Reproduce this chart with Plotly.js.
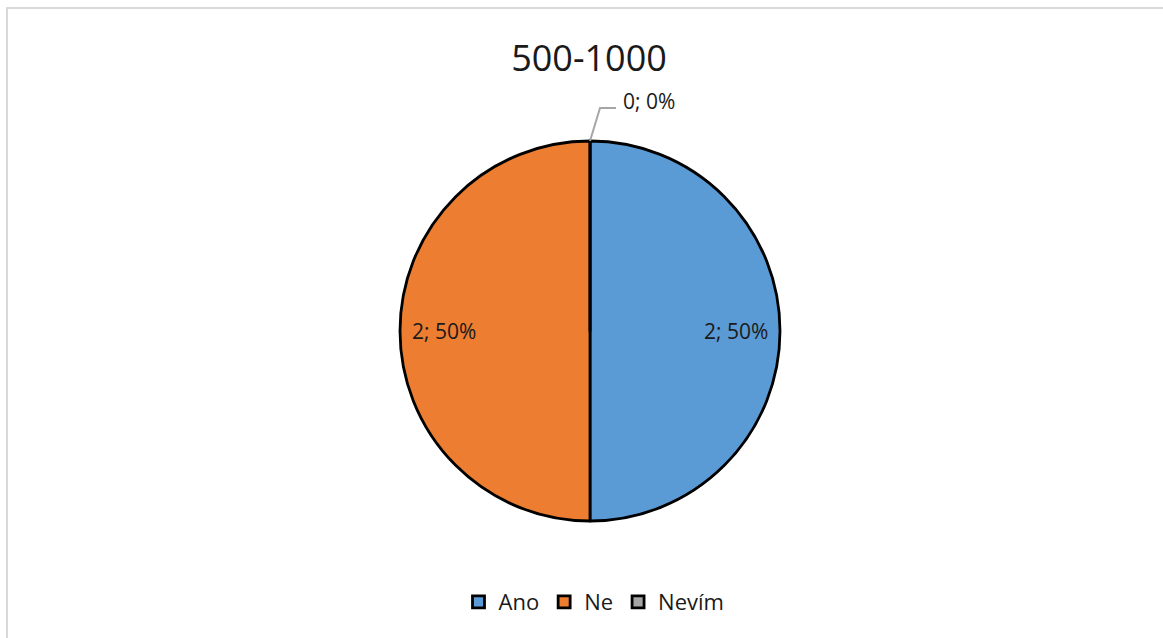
<!DOCTYPE html>
<html>
<head>
<meta charset="utf-8">
<script src="https://cdn.plot.ly/plotly-3.0.1.min.js"></script>
<style>
html,body{margin:0;padding:0;background:#fff;overflow:hidden;}
#chart{width:1163px;height:638px;}
</style>
</head>
<body>
<div id="chart"></div>
<script>
const categories = ["Ano", "Ne", "Nevím"];
const values = [2, 2, 0];
const colors = ["#5B9BD5", "#ED7D31", "#A5A5A5"];
const chartTitle = "500-1000";

const W = 1163, H = 638;
const cx = 590, cy = 331, R = 190;
const px = x => x / W;
const py = y => 1 - y / H;
const FONT = "'Open Sans', Lato, sans-serif";

const total = values.reduce((a, b) => a + b, 0);
const pctText = v => v + "; " + Math.round(100 * v / total) + "%";

const trace = {
  type: "pie",
  labels: categories,
  values: values,
  sort: false,
  direction: "clockwise",
  rotation: 0,
  marker: {colors: colors, line: {color: "#000000", width: 2.8}},
  textinfo: "none",
  hoverinfo: "label+value+percent",
  domain: {x: [px(cx - R), px(cx + R)], y: [py(cy + R), py(cy - R)]},
  showlegend: true
};

const annotations = [];
const shapes = [
  {type: "rect", xref: "paper", yref: "paper", x0: px(7), x1: 1.02, y0: -0.02, y1: py(8),
   line: {color: "#D9D9D9", width: 2}, fillcolor: "rgba(0,0,0,0)"}
];

// data labels placed at each slice's mid-angle (clockwise from 12 o'clock)
let cum = 0;
values.forEach((v, i) => {
  const mid = 2 * Math.PI * (cum + v / 2) / total;
  cum += v;
  if (v > 0) {
    const r = 0.77 * R;
    annotations.push({
      xref: "paper", yref: "paper",
      x: px(cx + r * Math.sin(mid)), y: py(cy - r * Math.cos(mid)),
      xanchor: "center", yanchor: "middle", showarrow: false,
      text: pctText(v),
      font: {family: FONT, size: 21, color: "#1a1a1a"}
    });
  } else {
    // zero slice: label outside with a bent grey leader line from the slice position
    const sx = cx + R * Math.sin(mid), sy = cy - R * Math.cos(mid);
    annotations.push({
      xref: "paper", yref: "paper", x: px(sx + 31), y: py(sy - 40),
      xanchor: "left", yanchor: "middle", showarrow: false,
      text: pctText(v),
      font: {family: FONT, size: 21, color: "#1a1a1a"}
    });
    shapes.push({
      type: "path", xref: "paper", yref: "paper",
      path: `M ${px(sx)} ${py(sy)} L ${px(sx + 10)} ${py(sy - 33)} L ${px(sx + 26)} ${py(sy - 33)}`,
      line: {color: "#A6A6A6", width: 2}
    });
  }
});

const layout = {
  width: W, height: H,
  margin: {l: 0, r: 0, t: 0, b: 0},
  paper_bgcolor: "#ffffff",
  title: {text: chartTitle, x: px(589), xanchor: "center", y: py(58), yanchor: "middle", yref: "paper",
          font: {family: FONT, size: 36, color: "#1a1a1a"}},
  legend: {orientation: "h", x: px(594), xanchor: "center", y: py(602), yanchor: "middle",
           font: {family: FONT, size: 22, color: "#1a1a1a"},
           itemwidth: 30, traceorder: "normal"},
  annotations: annotations,
  shapes: shapes
};

Plotly.newPlot("chart", [trace], layout, {displayModeBar: false, staticPlot: true});
</script>
</body>
</html>
